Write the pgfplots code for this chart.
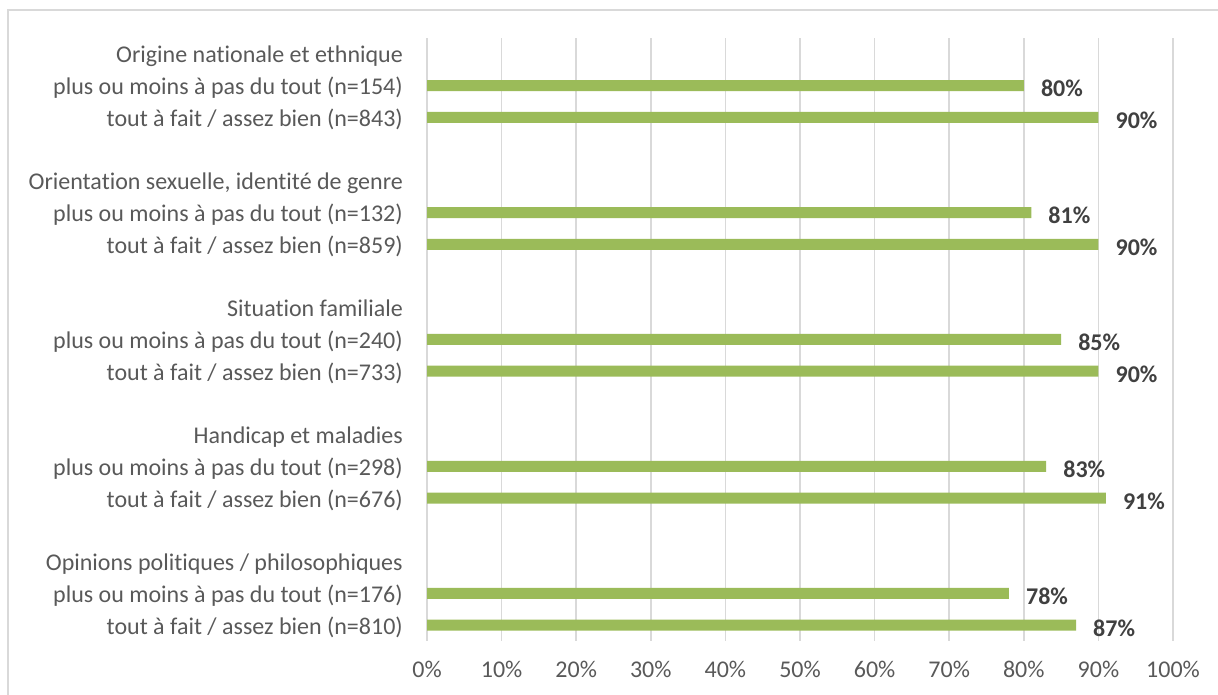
\documentclass[border=0pt]{standalone}
\usepackage{pgfplots}
\pgfplotsset{compat=1.18}
\usepackage{fontspec}
\setmainfont[Ligatures=NoCommon]{Carlito}
\definecolor{bargreen}{HTML}{9BBB59}
\definecolor{gridgray}{HTML}{D9D9D9}
\definecolor{labgray}{HTML}{595959}
\definecolor{datgray}{HTML}{404040}
\newcommand{\chartfont}{\fontsize{24}{28}\selectfont}
\begin{document}
\begin{tikzpicture}
\useasboundingbox (0,0) rectangle (1218pt,695pt);
\draw[gridgray, line width=1.5pt] (8pt,-5pt) -- (8pt,685pt) -- (1225pt,685pt);
\begin{axis}[
  at={(427pt,54pt)}, anchor=south west,
  scale only axis, width=746pt, height=603pt,
  xmin=0, xmax=100, ymin=-0.5, ymax=18.5,
  xbar, bar width=11pt,
  axis line style={draw=none},
  major tick length=0pt,
  xmajorgrids, grid style={gridgray, line width=1.5pt},
  xtick={0,10,...,100},
  xticklabels={0\%,10\%,20\%,30\%,40\%,50\%,60\%,70\%,80\%,90\%,100\%},
  x tick label style={font=\chartfont, text=labgray, anchor=base, inner sep=0pt, yshift=-37pt},
  ytick={0,...,18},
  yticklabels={
    tout à fait / assez bien (n=810),
    plus ou moins à pas du tout (n=176),
    Opinions politiques / philosophiques,
    {},
    tout à fait / assez bien (n=676),
    plus ou moins à pas du tout (n=298),
    Handicap et maladies,
    {},
    tout à fait / assez bien (n=733),
    plus ou moins à pas du tout (n=240),
    Situation familiale,
    {},
    tout à fait / assez bien (n=859),
    plus ou moins à pas du tout (n=132),
    {Orientation sexuelle, identité de genre},
    {},
    tout à fait / assez bien (n=843),
    plus ou moins à pas du tout (n=154),
    Origine nationale et ethnique},
  y tick label style={font=\chartfont, text=labgray, anchor=base east, inner sep=0pt, xshift=-24pt, yshift=-9pt},
  /pgf/number format/assume math mode=true,
  nodes near coords={\pgfmathprintnumber{\pgfplotspointmeta}\%},
  point meta=x,
  nodes near coords style={font=\chartfont\bfseries, text=datgray, anchor=base west, inner sep=0pt, xshift=17pt, yshift=-11pt},
]
\addplot[fill=bargreen, draw=none] coordinates {
  (87,0) (78,1)
  (91,4) (83,5)
  (90,8) (85,9)
  (90,12) (81,13)
  (90,16) (80,17)
};
\end{axis}
\end{tikzpicture}
\end{document}
